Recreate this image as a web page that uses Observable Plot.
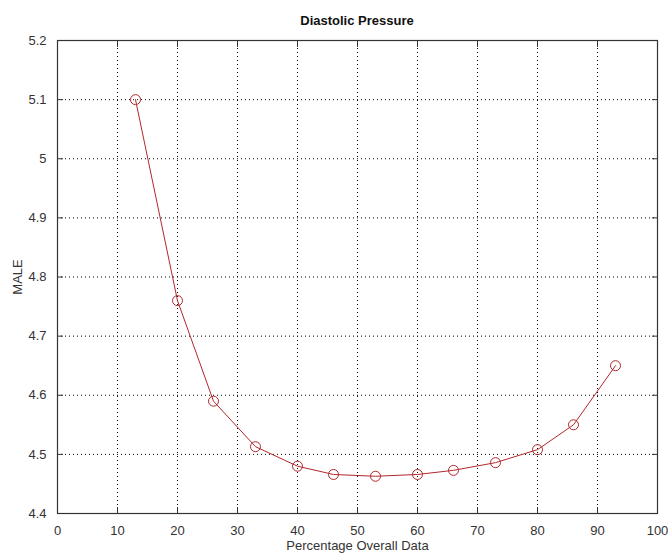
<!DOCTYPE html>
<html>
<head>
<meta charset="utf-8">
<script src="https://cdn.jsdelivr.net/npm/d3@7"></script>
<script src="https://cdn.jsdelivr.net/npm/@observablehq/plot@0.6"></script>
<style>
  html, body { margin: 0; padding: 0; background: #fff; }
  #title { width: 668px; height: 32px; box-sizing: border-box; padding-left: 57px; padding-right: 11px; text-align: center; font: bold 13px "Liberation Sans", Arial, sans-serif; color: #111; line-height: 42px; }
  svg { display: block; }
</style>
</head>
<body>
<div id="title">Diastolic Pressure</div>
<div id="chart"></div>
<script>
const percentage = [13, 20, 26, 33, 40, 46, 53, 60, 66, 73, 80, 86, 93];
const male = [5.1, 4.76, 4.59, 4.513, 4.48, 4.466, 4.463, 4.466, 4.473, 4.486, 4.508, 4.55, 4.65];
const xTicks = [0, 10, 20, 30, 40, 50, 60, 70, 80, 90, 100];
const yTicks = [4.4, 4.5, 4.6, 4.7, 4.8, 4.9, 5.0, 5.1, 5.2];

const data = percentage.map((p, i) => ({x: p, y: male[i]}));
const lineColor = "#b0282c";
const fmtY = d => String(+d.toFixed(1));
const inner = xTicks.slice(1, -1);
const innerY = yTicks.slice(1, -1);

const chart = Plot.plot({
  width: 668,
  height: 523,
  marginLeft: 57,
  marginRight: 11,
  marginTop: 8,
  marginBottom: 42,
  style: {fontFamily: "'Liberation Sans', Arial, sans-serif", fontSize: "13px", color: "#333", background: "#fff"},
  x: {domain: [0, 100]},
  y: {domain: [4.4, 5.2]},
  marks: [
    Plot.gridX(inner, {stroke: "#000", strokeOpacity: 1, strokeDasharray: "1,3"}),
    Plot.gridY(innerY, {stroke: "#000", strokeOpacity: 1, strokeDasharray: "1,3"}),
    Plot.axisX(xTicks, {anchor: "bottom", tickSize: -6, tickPadding: 18, fontSize: 13, label: "Percentage Overall Data", labelAnchor: "center", labelArrow: "none", labelOffset: 36, stroke: "#333"}),
    Plot.axisX(xTicks, {anchor: "top", tickSize: -6, tickFormat: () => "", label: null, stroke: "#333"}),
    Plot.axisY(yTicks, {anchor: "left", tickSize: -6, tickPadding: 17, tickFormat: fmtY, fontSize: 13, label: "MALE", labelAnchor: "center", labelArrow: "none", labelOffset: 45, stroke: "#333"}),
    Plot.axisY(yTicks, {anchor: "right", tickSize: -6, tickFormat: () => "", label: null, stroke: "#333"}),
    Plot.frame({stroke: "#333", strokeWidth: 1.2}),
    Plot.line(data, {x: "x", y: "y", stroke: lineColor, strokeWidth: 1}),
    Plot.dot(data, {x: "x", y: "y", r: 5, stroke: lineColor, fill: "none", strokeWidth: 1})
  ]
});
document.getElementById("chart").appendChild(chart);
</script>
</body>
</html>
